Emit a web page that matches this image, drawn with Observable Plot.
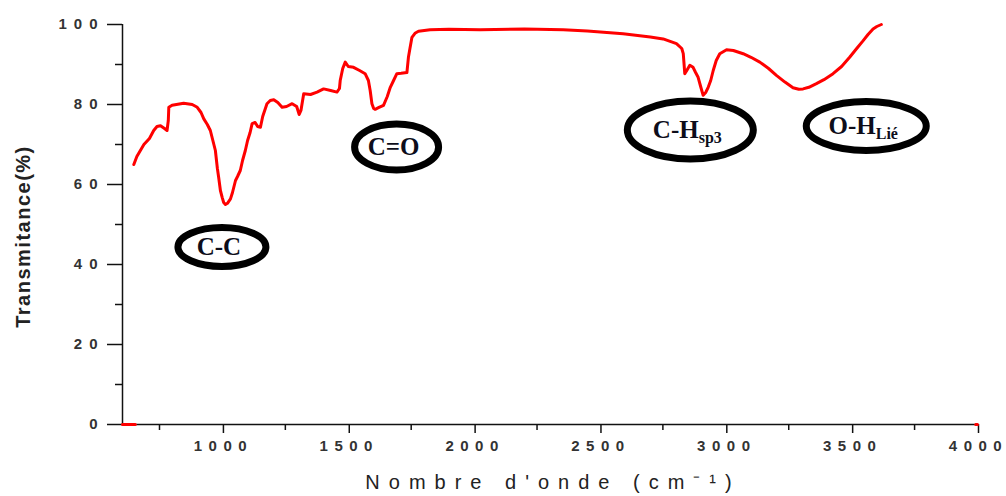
<!DOCTYPE html>
<html><head><meta charset="utf-8">
<script src="https://cdn.jsdelivr.net/npm/d3@7"></script>
<script src="https://cdn.jsdelivr.net/npm/@observablehq/plot@0.6"></script>
<style>
html,body{margin:0;padding:0;background:#fff;}
#chart svg{display:block;overflow:visible;}
#chart g[aria-label$="tick label"]{font-family:"Liberation Sans",Arial,sans-serif;font-size:15px;font-weight:bold;letter-spacing:7px;fill:#333;}
#chart g[aria-label="x-axis tick label"]{letter-spacing:6.5px;}
</style></head><body><div id="chart"></div>
<script>
// ---- data ----
const wavenumber = [648,660,688,710,727,740,754,770,780,785,787,800,846,880,900,915,926,940,952,962,972,980,985,992,999,1005,1012,1020,1032,1040,1052,1060,1071,1080,1091,1100,1110,1118,1130,1140,1151,1160,1177,1190,1204,1220,1237,1255,1277,1295,1305,1312,1323,1350,1376,1402,1430,1455,1465,1468,1478,1488,1500,1521,1545,1567,1580,1587,1594,1601,1607,1620,1640,1655,1667,1680,1693,1710,1733,1739,1745,1753,1765,1779,1825,1900,2024,2200,2354,2450,2592,2700,2751,2804,2825,2831,2837,2845,2857,2870,2880,2890,2900,2910,2920,2930,2940,2950,2962,2976,3003,3030,3069,3100,3135,3170,3201,3235,3267,3290,3307,3330,3360,3390,3426,3460,3492,3520,3545,3565,3585,3600,3618];
const transmittance = [65,67,70,71.5,73.5,74.5,74.7,74,73.5,76,79.3,79.8,80.3,80,79.3,78,76.4,75,73.5,71,68.5,64,61.8,58.5,56.8,55.5,55,55.3,56.4,58,61,62,63.5,66,68.5,71,73,75.2,75.5,74.5,74.3,77,80.2,81,81.2,80.5,79.3,79.5,80.2,79.5,77.5,78.5,82.7,82.5,83.1,83.9,83.5,83.1,84,86,89,90.6,89.5,89.3,88.5,87.7,86,83.5,80.2,79,78.8,79.2,79.8,82,84.3,86,87.7,87.8,88,91.8,94,96.8,97.8,98.3,98.7,98.8,98.7,98.9,98.7,98.4,97.7,96.9,96.4,95.2,94,92.7,87.7,88.5,89.8,89.3,88,86.8,84.5,82.3,83,84.3,86,88.5,91,92.7,93.7,93.5,92.7,91.8,90.6,89,87.3,85.6,84.2,83.8,83.9,84.3,85.2,86.2,87.7,89.5,91.8,94,95.9,97.5,98.9,99.5,100];
// red stray segments lying on the baseline in the reference
const strayX = [603,654,3993,4000];
const strayT = [0,0,0,0];
const strayGroup = ["a","a","b","b"];

const xTicks = [1000,1500,2000,2500,3000,3500,4000];
const xMinorTicks = [750,1250,1750,2250,2750,3250,3750];
const yTicks = [0,20,40,60,80,100];
const yMinorTicks = [10,30,50,70,90];

const bandNames = ["C-C","C=O","C-H","O-H"];
const bandSubscripts = ["","","sp3","Lié"];
const bandWavenumber = [1000,1694,2861,3560];
const bandTransmittance = [44.25,69.25,73.5,74.5];

const xTitle = "Nombre d'onde (cm\u207B\u00B9)";
const yTitle = "Transmitance(%)";

// ---- drawing ----
const spectrum = wavenumber.map((w, i) => ({w, t: transmittance[i]}));
const stray = strayX.map((w, i) => ({w, t: strayT[i], g: strayGroup[i]}));

const plot = Plot.plot({
  width: 1006,
  height: 496,
  marginLeft: 122,
  marginRight: 29,
  marginTop: 24,
  marginBottom: 72,
  style: {background: "white", fontFamily: "'Liberation Sans', Arial, sans-serif", overflow: "visible"},
  x: {domain: [603, 4000]},
  y: {domain: [0, 100]},
  marks: [
    Plot.axisY({ticks: yTicks, tickSize: 15, tickPadding: 3, tickFormat: d => String(d), label: null, stroke: "#111", strokeWidth: 1.5}),
    Plot.axisY({ticks: yMinorTicks, tickSize: 7, tickFormat: () => "", label: null, stroke: "#111", strokeWidth: 1.5}),
    Plot.axisX({ticks: xTicks, tickSize: 9, tickPadding: 7, tickFormat: d => String(d), label: null, stroke: "#111", strokeWidth: 1.5, dx: 1}),
    Plot.axisX({ticks: xMinorTicks, tickSize: 6, tickFormat: () => "", label: null, stroke: "#111", strokeWidth: 1.5}),
    Plot.ruleX([603], {y1: 0, y2: 100, stroke: "#111", strokeWidth: 1.5}),
    Plot.ruleY([0], {x1: 603, x2: 4000, stroke: "#111", strokeWidth: 1.5}),
    Plot.line(stray, {x: "w", y: "t", z: "g", stroke: "#ff0000", strokeWidth: 3}),
    Plot.line(spectrum, {x: "w", y: "t", stroke: "#ff0000", strokeWidth: 3}),
    Plot.text([yTitle], {frameAnchor: "left", textAnchor: "middle", dx: -99, dy: 12, rotate: -90, fill: "#222", fontSize: 20, fontWeight: "bold"}),
    Plot.text([xTitle], {frameAnchor: "bottom", textAnchor: "middle", dy: 64, dx: 3, fill: "#222", fontSize: 20})
  ]
});
document.getElementById("chart").appendChild(plot);

// letter spacing of the two axis titles
d3.select(plot).selectAll("text").each(function() {
  const s = this.textContent;
  if (s === yTitle) this.style.letterSpacing = "1.5px";
  if (s === xTitle) this.style.letterSpacing = "9px";
});

// ---- band annotations (ellipse + label), placed through the plot's scales ----
const sx = plot.scale("x"), sy = plot.scale("y");
const ellipseSize = {"C-C": [44, 19.5], "C=O": [42, 23], "C-H": [63, 29], "O-H": [60, 24.5]};
const g = d3.select(plot).append("g").attr("aria-label", "band annotations");
bandNames.forEach((name, i) => {
  const cx = sx.apply(bandWavenumber[i]);
  const cy = sy.apply(bandTransmittance[i]);
  const [rx, ry] = ellipseSize[name];
  g.append("ellipse")
    .attr("cx", cx).attr("cy", cy).attr("rx", rx).attr("ry", ry)
    .attr("fill", "white").attr("stroke", "black").attr("stroke-width", 7);
  const t = g.append("text")
    .attr("x", cx - 3).attr("y", cy + 8)
    .attr("text-anchor", "middle")
    .attr("font-family", "'Liberation Serif','Times New Roman',serif")
    .attr("font-weight", "bold")
    .attr("fill", "#0d0d1a");
  t.append("tspan").attr("font-size", 25).text(name);
  if (bandSubscripts[i]) {
    t.append("tspan").attr("font-size", 16).attr("dy", 5).text(bandSubscripts[i]);
  }
});
</script>
</body></html>
